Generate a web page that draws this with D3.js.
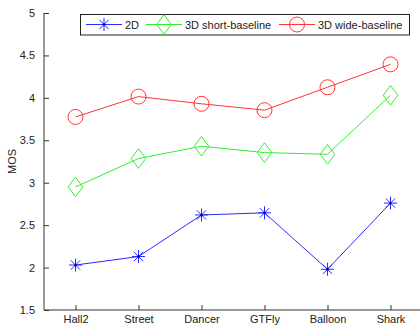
<!DOCTYPE html>
<html>
<head>
<meta charset="utf-8">
<script src="https://cdn.jsdelivr.net/npm/d3@7"></script>
<style>
  body { margin: 0; background: #fff; }
  text { font-family: "Liberation Sans", Arial, sans-serif; font-size: 11px; fill: #222; }
</style>
</head>
<body>
<svg id="chart" width="420" height="327"></svg>
<script>
// data
const categories = ['Hall2', 'Street', 'Dancer', 'GTFly', 'Balloon', 'Shark'];
const yTicks = [1.5, 2, 2.5, 3, 3.5, 4, 4.5, 5];
const mos2D = [2.03, 2.13, 2.62, 2.645, 1.98, 2.76];
const mosShort = [2.95, 3.285, 3.43, 3.355, 3.335, 4.03];
const mosWide = [3.775, 4.015, 3.93, 3.855, 4.125, 4.395];

const seriesNames = ['2D', '3D short-baseline', '3D wide-baseline'];
const series = [
  { name: seriesNames[0], values: mos2D, color: '#2a2aff', marker: 'star' },
  { name: seriesNames[1], values: mosShort, color: '#33ee33', marker: 'diamond' },
  { name: seriesNames[2], values: mosWide, color: '#ff3333', marker: 'circle' }
];

let svg = d3.select('#chart');
let plotLeft = 44, plotRight = 422, plotTop = 13, plotBottom = 310;

let x = d3.scaleLinear().domain([0.5, 6.5]).range([plotLeft, plotRight]);
let y = d3.scaleLinear().domain([1.5, 5]).range([plotBottom, plotTop]);

// axes (MATLAB style, ticks pointing inward)
let yAxis = d3.axisLeft(y).tickValues(yTicks).tickSize(-5).tickPadding(9)
  .tickFormat(d => d3.format('')(d));
let gy = svg.append('g').attr('transform', `translate(${plotLeft},0)`).call(yAxis);

let xAxis = d3.axisBottom(x).tickValues(d3.range(1, 7)).tickSize(-5).tickPadding(9)
  .tickFormat(i => categories[i - 1]);
let gx = svg.append('g').attr('transform', `translate(0,${plotBottom})`).call(xAxis);

[gx, gy].forEach(g => {
  g.select('.domain').attr('stroke', '#333').attr('stroke-width', 1);
  g.selectAll('.tick line').attr('stroke', '#333');
  g.selectAll('text').attr('font-size', 11).attr('fill', '#222')
    .attr('font-family', '"Liberation Sans", Arial, sans-serif');
});
// baseline of category labels sits ~13px under the axis
gx.selectAll('.tick text').attr('dy', 0).attr('y', 13);
gy.select('.domain').attr('d', `M0,${plotBottom}V${plotTop}`);
gx.select('.domain').attr('d', `M${plotLeft},0H${plotRight}`);

svg.append('text')
  .attr('transform', `translate(16,${(plotTop + plotBottom) / 2}) rotate(-90)`)
  .attr('text-anchor', 'middle')
  .text('MOS');

function drawMarker(g, type, color) {
  if (type === 'star') {
    let r = 6.5, d = r * 0.72;
    g.append('path')
      .attr('d', `M${-r},0H${r}M0,${-r}V${r}M${-d},${-d}L${d},${d}M${-d},${d}L${d},${-d}`)
      .attr('stroke', color).attr('stroke-width', 1).attr('fill', 'none');
    g.append('circle').attr('r', 1.2).attr('fill', '#00008b');
  } else if (type === 'diamond') {
    g.append('path').attr('d', 'M0,-9.8L7.3,0L0,9.8L-7.3,0Z')
      .attr('stroke', color).attr('stroke-width', 1).attr('fill', 'none');
  } else {
    g.append('circle').attr('r', 7.5)
      .attr('stroke', color).attr('stroke-width', 1).attr('fill', 'none');
  }
}

let line = d3.line().x((d, i) => x(i + 1)).y(d => y(d));

series.forEach(s => {
  svg.append('path').datum(s.values)
    .attr('d', line)
    .attr('fill', 'none')
    .attr('stroke', s.color)
    .attr('stroke-width', 1);
  s.values.forEach((v, i) => {
    let g = svg.append('g').attr('transform', `translate(${x(i + 1)},${y(v)})`);
    drawMarker(g, s.marker, s.color);
  });
});

// legend
let legend = svg.append('g');
legend.append('rect')
  .attr('x', 80.5).attr('y', 14.5).attr('width', 329).attr('height', 20.5)
  .attr('fill', '#fff').attr('stroke', '#222').attr('stroke-width', 1);
let legendX = [86, 146, 279];
series.forEach((s, i) => {
  let lx = legendX[i];
  let g = legend.append('g').attr('transform', `translate(${lx},24.5)`);
  g.append('line').attr('x1', 0).attr('x2', 36).attr('stroke', s.color).attr('stroke-width', 1);
  let m = g.append('g').attr('transform', 'translate(18,0)');
  drawMarker(m, s.marker, s.color);
  g.append('text').attr('x', 39).attr('y', 4).text(s.name);
});
</script>
</body>
</html>
